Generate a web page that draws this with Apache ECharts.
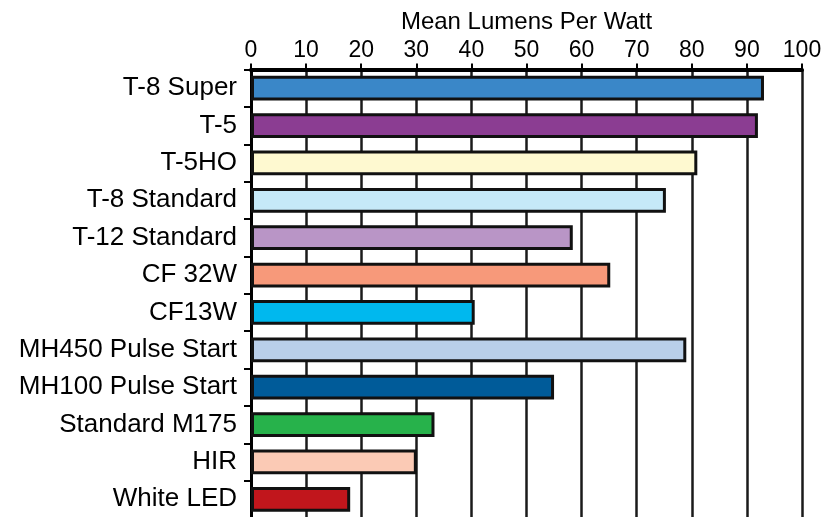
<!DOCTYPE html>
<html>
<head>
<meta charset="utf-8">
<script src="https://cdn.jsdelivr.net/npm/echarts@6/dist/echarts.min.js"></script>
<style>html,body{margin:0;padding:0;background:#fff;}#c{width:827px;height:517px;}</style>
</head>
<body>
<div id="c"></div>
<script>
const categories = ["T-8 Super","T-5","T-5HO","T-8 Standard","T-12 Standard","CF 32W","CF13W","MH450 Pulse Start","MH100 Pulse Start","Standard M175","HIR","White LED"];
const values = [93.1, 92, 81, 75.3, 58.4, 65.2, 40.6, 79, 55, 33.3, 30.1, 18];
const colors = ["#3a87c8","#8b3d92","#fef9d0","#c6e9f8","#b995c6","#f7997a","#00b8ee","#b9cfe9","#005b99","#27b24b","#fbcab5","#c1161c"];
const axisTitle = "Mean Lumens Per Watt";
const xMin = 0, xMax = 100, xInterval = 10;

const chart = echarts.init(document.getElementById('c'), null, {renderer: 'canvas'});
const font = 'Liberation Sans, Arial, Helvetica, sans-serif';
chart.setOption({
  animation: false,
  backgroundColor: '#fff',
  grid: {left: 251, right: 25, top: 69.5, height: 448.5, containLabel: false, outerBoundsMode: 'none'},
  xAxis: {
    type: 'value', position: 'top', min: xMin, max: xMax, interval: xInterval,
    name: axisTitle, nameLocation: 'middle', nameGap: 35,
    nameTextStyle: {color: '#000', fontSize: 24, fontFamily: font},
    axisLine: {show: true, lineStyle: {color: '#000', width: 4}},
    axisTick: {show: true, inside: false, length: 6, lineStyle: {color: '#000', width: 2}},
    axisLabel: {color: '#000', fontSize: 23, fontFamily: font, margin: 7},
    splitLine: {show: true, lineStyle: {color: '#1a1a1a', width: 2.5}}
  },
  yAxis: {
    type: 'category', inverse: true, data: categories,
    axisLine: {show: true, lineStyle: {color: '#000', width: 3}},
    axisTick: {show: true, length: 7, lineStyle: {color: '#000', width: 2}},
    axisLabel: {color: '#000', fontSize: 26, fontFamily: font, margin: 14},
    splitLine: {show: false}
  },
  series: [{
    type: 'bar',
    barCategoryGap: '34%',
    data: values.map((v, i) => ({value: v, itemStyle: {color: colors[i]}})),
    itemStyle: {borderColor: '#111', borderWidth: 3},
    z: 3
  }]
});
</script>
</body>
</html>
